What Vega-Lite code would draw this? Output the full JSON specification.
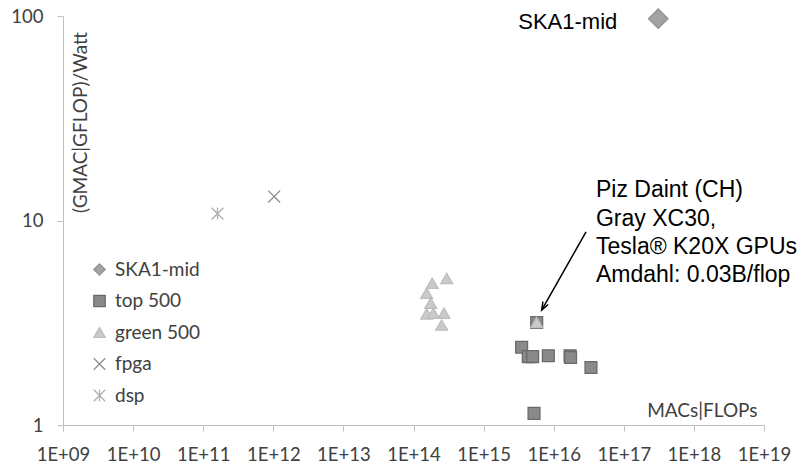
{
  "$schema": "https://vega.github.io/schema/vega-lite/v6.json",
  "width": 701,
  "height": 409,
  "autosize": "none",
  "padding": {"left": 63, "top": 16, "right": 44, "bottom": 41},
  "background": "white",
  "config": {
    "view": {"stroke": null},
    "axis": {
      "grid": false,
      "domainColor": "#bfbfbf",
      "tickColor": "#bfbfbf",
      "tickSize": 6,
      "labelColor": "#404040",
      "labelFont": "Lato",
      "labelFontSize": 18.5,
      "labelOverlap": false,
      "labelFlush": false,
      "titleFont": "Lato",
      "titleFontSize": 19,
      "titleFontWeight": "normal",
      "titleColor": "#404040"
    },
    "legend": {
      "orient": "none",
      "legendX": 27,
      "legendY": 244,
      "padding": 0,
      "labelFont": "Lato",
      "labelFontSize": 19,
      "labelColor": "#404040",
      "rowPadding": 11.5,
      "symbolSize": 130,
      "labelOffset": 6,
      "symbolStrokeWidth": 1.3
    }
  },
  "datasets": {
    "points": [
      {"series": "top 500", "x": 3.49e15, "y": 2.40},
      {"series": "top 500", "x": 4.34e15, "y": 2.16},
      {"series": "top 500", "x": 5.01e15, "y": 2.16},
      {"series": "top 500", "x": 8.38e15, "y": 2.18},
      {"series": "top 500", "x": 1.71e16, "y": 2.18},
      {"series": "top 500", "x": 1.74e16, "y": 2.14},
      {"series": "top 500", "x": 3.40e16, "y": 1.91},
      {"series": "top 500", "x": 5.24e15, "y": 1.14},
      {"series": "top 500", "x": 5.72e15, "y": 3.17},
      {"series": "green 500", "x": 2.98e14, "y": 5.21},
      {"series": "green 500", "x": 1.85e14, "y": 4.93},
      {"series": "green 500", "x": 1.54e14, "y": 4.41},
      {"series": "green 500", "x": 1.76e14, "y": 3.94},
      {"series": "green 500", "x": 1.54e14, "y": 3.49},
      {"series": "green 500", "x": 1.92e14, "y": 3.52},
      {"series": "green 500", "x": 2.72e14, "y": 3.52},
      {"series": "green 500", "x": 2.52e14, "y": 3.08},
      {"series": "green 500", "x": 5.72e15, "y": 3.17},
      {"series": "fpga", "x": 1.03e12, "y": 13.1},
      {"series": "dsp", "x": 1.6e11, "y": 10.8}
    ],
    "big": [
      {"series": "SKA1-mid", "x": 3.1e17, "y": 97}
    ],
    "arrow": [
      {"x": 2.89e16, "y": 8.79, "x2": 6.74e15, "y2": 3.65}
    ],
    "head": [
      {"x": 6.74e15, "y": 3.65, "angle": 209}
    ],
    "ska": [
      {"x": 8.07e16, "y": 86.1, "label": "SKA1-mid"}
    ],
    "piz": [
      {"x": 4.01e16, "y": 12.98, "label": "Piz Daint (CH)"},
      {"x": 4.01e16, "y": 9.43, "label": "Gray XC30,"},
      {"x": 4.01e16, "y": 6.86, "label": "Tesla® K20X GPUs"},
      {"x": 4.01e16, "y": 4.99, "label": "Amdahl: 0.03B/flop"}
    ]
  },
  "layer": [
    {
      "data": {"name": "points"},
      "mark": {"type": "point", "opacity": 1, "strokeWidth": 1.3, "size": 140},
      "encoding": {
        "x": {
          "field": "x", "type": "quantitative",
          "scale": {"type": "log", "domain": [1e9, 1e19], "nice": false},
          "axis": {
            "values": [1e9, 1e10, 1e11, 1e12, 1e13, 1e14, 1e15, 1e16, 1e17, 1e18, 1e19],
            "labelExpr": "'1E+' + format(round(log(datum.value)/LN10), '02d')",
            "labelPadding": 14,
            "title": "MACs|FLOPs",
            "titleAlign": "right",
            "titleAnchor": null,
            "titleX": 694,
            "titleY": -9,
            "titleBaseline": "alphabetic"
          }
        },
        "y": {
          "field": "y", "type": "quantitative",
          "scale": {"type": "log", "domain": [1, 100], "nice": false},
          "axis": {
            "values": [1, 10, 100],
            "format": "d",
            "labelPadding": 14,
            "title": "(GMAC|GFLOP)/Watt",
            "titleAngle": 270,
            "titleAlign": "center",
            "titleBaseline": "middle",
            "titleX": 17,
            "titleY": 106
          }
        },
        "shape": {
          "field": "series", "type": "nominal",
          "scale": {
            "domain": ["SKA1-mid", "top 500", "green 500", "fpga", "dsp"],
            "range": ["diamond", "square", "triangle-up", "M-1,-1L1,1M-1,1L1,-1", "M-1,-1L1,1M-1,1L1,-1M0,-1L0,1"]
          },
          "title": null
        },
        "fill": {
          "field": "series", "type": "nominal",
          "scale": {
            "domain": ["SKA1-mid", "top 500", "green 500", "fpga", "dsp"],
            "range": ["#a3a3a3", "#8a8a8a", "#cacaca", "#ffffff", "#ffffff"]
          },
          "title": null
        },
        "stroke": {
          "field": "series", "type": "nominal",
          "scale": {
            "domain": ["SKA1-mid", "top 500", "green 500", "fpga", "dsp"],
            "range": ["#939393", "#6a6a6a", "#bdbdbd", "#8c8c8c", "#b0b0b0"]
          },
          "title": null
        }
      }
    },
    {
      "data": {"name": "big"},
      "mark": {"type": "point", "opacity": 1, "strokeWidth": 1.3, "size": 380},
      "encoding": {
        "x": {"field": "x", "type": "quantitative"},
        "y": {"field": "y", "type": "quantitative"},
        "shape": {"field": "series", "type": "nominal", "title": null},
        "fill": {"field": "series", "type": "nominal", "title": null},
        "stroke": {"field": "series", "type": "nominal", "title": null}
      }
    },
    {
      "data": {"name": "arrow"},
      "mark": {"type": "rule", "color": "black", "strokeWidth": 1.5},
      "encoding": {
        "x": {"field": "x", "type": "quantitative"},
        "y": {"field": "y", "type": "quantitative"},
        "x2": {"field": "x2"},
        "y2": {"field": "y2"}
      }
    },
    {
      "data": {"name": "head"},
      "mark": {"type": "point", "shape": "M-0.6,1.6L0,0L0.6,1.6", "size": 100, "filled": false, "stroke": "black", "strokeWidth": 1.5, "opacity": 1},
      "encoding": {
        "x": {"field": "x", "type": "quantitative"},
        "y": {"field": "y", "type": "quantitative"},
        "angle": {"field": "angle", "type": "quantitative", "scale": null}
      }
    },
    {
      "data": {"name": "ska"},
      "mark": {"type": "text", "align": "right", "baseline": "alphabetic", "font": "Liberation Sans", "fontSize": 22, "color": "black"},
      "encoding": {
        "x": {"field": "x", "type": "quantitative"},
        "y": {"field": "y", "type": "quantitative"},
        "text": {"field": "label"}
      }
    },
    {
      "data": {"name": "piz"},
      "mark": {"type": "text", "align": "left", "baseline": "alphabetic", "font": "Liberation Sans", "fontSize": 23, "color": "black"},
      "encoding": {
        "x": {"field": "x", "type": "quantitative"},
        "y": {"field": "y", "type": "quantitative"},
        "text": {"field": "label"}
      }
    }
  ]
}
